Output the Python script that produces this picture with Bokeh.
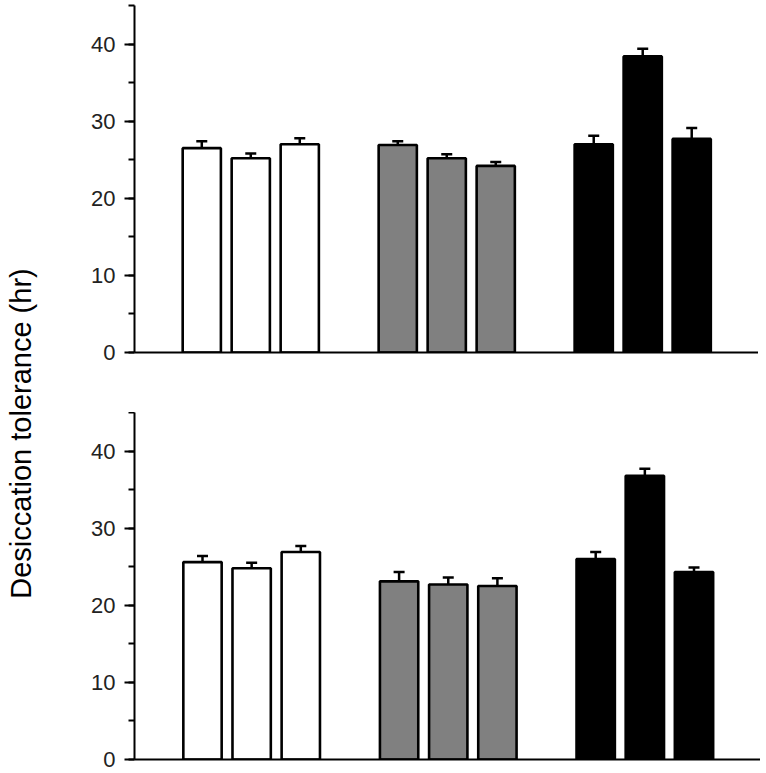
import math
from bokeh.plotting import figure
from bokeh.models import Range1d, SingleIntervalTicker, FixedTicker, ColumnDataSource, Label
from bokeh.layouts import row, column
from bokeh.embed import file_html
from bokeh.resources import INLINE

# ---- data ----
groups = ["Group 1", "Group 2", "Group 3"]
lines = ["1", "2", "3"]
top_mean = [26.5, 25.2, 27.0, 26.9, 25.2, 24.2, 27.0, 38.4, 27.7]
top_sem = [0.9, 0.6, 0.8, 0.5, 0.5, 0.5, 1.1, 1.0, 1.4]
bot_mean = [25.6, 24.8, 26.9, 23.1, 22.7, 22.5, 26.0, 36.8, 24.3]
bot_sem = [0.8, 0.7, 0.8, 1.2, 0.9, 1.0, 0.9, 0.9, 0.6]
group_fill = ["#ffffff", "#808080", "#000000"]
y_label = "Desiccation tolerance (hr)"
FONT = "Liberation Sans"

# bar slots: one empty slot between groups
xpos = [gi * (len(lines) + 1) + li for gi in range(len(groups)) for li in range(len(lines))]
fills = [group_fill[gi] for gi in range(len(groups)) for _ in lines]

PITCH = 49.15
FRAME_W = 626
FRAME_H = 347


def panel(mean, sem, border_left, lead_px, border_top, border_bottom):
    src = ColumnDataSource(dict(
        x=xpos, top=mean, upper=[m + s for m, s in zip(mean, sem)], fill=fills))
    start = -lead_px / PITCH
    xr = Range1d(start, start + FRAME_W / PITCH)
    p = figure(x_range=xr, y_range=Range1d(0, 45),
               width=border_left + FRAME_W, height=border_top + FRAME_H + border_bottom,
               min_border_left=border_left, min_border_right=0,
               min_border_top=border_top, min_border_bottom=border_bottom,
               output_backend="svg", toolbar_location=None)
    p.outline_line_color = None
    p.grid.visible = False
    p.background_fill_color = "white"
    p.border_fill_color = "white"

    p.segment(x0="x", y0="top", x1="x", y1="upper", source=src,
              line_color="black", line_width=2.5)
    p.scatter(x="x", y="upper", source=src, marker="dash", size=11,
              line_color="black", line_width=2.5)
    p.vbar(x="x", top="top", bottom=0, width=0.78, source=src,
           fill_color="fill", line_color="black", line_width=2.6)

    ya = p.yaxis[0]
    ya.ticker = SingleIntervalTicker(interval=10, num_minor_ticks=2)
    ya.axis_line_width = 2
    ya.axis_line_color = "black"
    ya.major_tick_line_width = 2
    ya.minor_tick_line_width = 2
    ya.major_tick_line_color = "black"
    ya.minor_tick_line_color = "black"
    ya.major_tick_in = 0
    ya.major_tick_out = 10
    ya.minor_tick_in = 0
    ya.minor_tick_out = 6
    ya.major_label_standoff = 9
    ya.major_label_text_font = FONT
    ya.major_label_text_font_size = "22px"
    ya.major_label_text_color = "#222222"

    xa = p.xaxis[0]
    xa.ticker = FixedTicker(ticks=[])
    xa.axis_line_width = 2
    xa.axis_line_color = "black"
    xa.major_tick_line_color = None
    xa.minor_tick_line_color = None
    xa.major_tick_in = 0
    xa.major_tick_out = 0
    xa.major_label_standoff = 0
    return p


p_top = panel(top_mean, top_sem, 92, 67.5, 5, 60)
p_bot = panel(bot_mean, bot_sem, 94, 68.0, 0, 14)

H = 773
lab = figure(width=40, height=H, x_range=Range1d(0, 40), y_range=Range1d(0, H),
             min_border=0, output_backend="svg", toolbar_location=None)
lab.axis.visible = False
lab.grid.visible = False
lab.outline_line_color = None
lab.add_layout(Label(x=20, y=H - 433, text=y_label, angle=math.pi / 2,
                     text_font=FONT, text_font_size="29px", text_color="black",
                     text_align="center", text_baseline="middle"))

layout = row(lab, column(p_top, p_bot, spacing=0), spacing=0)

open("out.html", "w").write(file_html(layout, INLINE))
